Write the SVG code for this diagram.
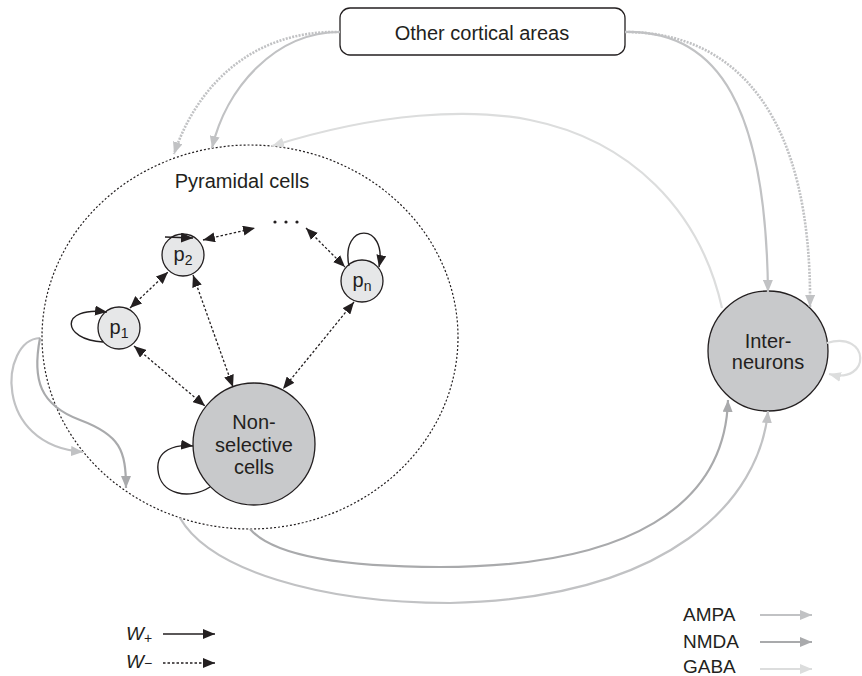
<svg xmlns="http://www.w3.org/2000/svg" width="862" height="676" viewBox="0 0 862 676">
  <style>
    text { font-family: "Liberation Sans", Arial, sans-serif; fill: #231f20; }
    .lbl { font-size: 20px; text-anchor: middle; }
    .sub { font-size: 14px; }
    .leg { font-size: 19px; }
    .node { stroke: #231f20; stroke-width: 1.3; }
    .pyr { fill: #e6e7e8; }
    .big { fill: #c8c9cb; }
    .wp { fill: none; stroke: #231f20; stroke-width: 1.4; }
    .wm { fill: none; stroke: #231f20; stroke-width: 1.3; stroke-dasharray: 2.5 2; }
    .ampa { fill: none; stroke: #c1c2c4; stroke-width: 2.2; }
    .nmda { fill: none; stroke: #a9aaac; stroke-width: 2.2; }
    .gaba { fill: none; stroke: #dcdddd; stroke-width: 2.2; }
    .dots { stroke-width: 2.6; stroke-dasharray: 2 1.3; }
  </style>
  <defs>
    <marker id="hk" viewBox="0 0 12 10" refX="12" refY="5" markerWidth="12" markerHeight="10" markerUnits="userSpaceOnUse" orient="auto-start-reverse">
      <path d="M0,0 L12,5 L0,10 z" fill="#231f20"/>
    </marker>
    <marker id="ha" viewBox="0 0 12 10" refX="12" refY="5" markerWidth="12" markerHeight="10" markerUnits="userSpaceOnUse" orient="auto">
      <path d="M0,0 L12,5 L0,10 z" fill="#c1c2c4"/>
    </marker>
    <marker id="hn" viewBox="0 0 12 10" refX="12" refY="5" markerWidth="12" markerHeight="10" markerUnits="userSpaceOnUse" orient="auto">
      <path d="M0,0 L12,5 L0,10 z" fill="#a9aaac"/>
    </marker>
    <marker id="hg" viewBox="0 0 12 10" refX="12" refY="5" markerWidth="12" markerHeight="10" markerUnits="userSpaceOnUse" orient="auto">
      <path d="M0,0 L12,5 L0,10 z" fill="#dcdddd"/>
    </marker>
  </defs>

  <!-- pyramidal population boundary -->
  <g id="pyramidal-pool">
    <ellipse cx="250" cy="337" rx="208" ry="192" fill="none" stroke="#231f20" stroke-width="1.2" stroke-dasharray="2 2"/>
    <text class="lbl" x="242" y="188">Pyramidal cells</text>
  </g>

  <g id="other-cortical-areas">
    <rect x="340" y="8" width="285" height="47" rx="10" fill="#fff" stroke="#231f20" stroke-width="1.3"/>
    <text class="lbl" x="482" y="40">Other cortical areas</text>
  </g>

  <g id="p1">
    <circle class="node pyr" cx="119" cy="328" r="21"/>
    <text class="lbl" x="119" y="334">p<tspan class="sub" dy="4">1</tspan></text>
  </g>
  <g id="p2">
    <circle class="node pyr" cx="183" cy="255" r="21"/>
    <text class="lbl" x="183" y="261">p<tspan class="sub" dy="4">2</tspan></text>
  </g>
  <g id="ellipsis">
    <circle cx="275" cy="222" r="1.6" fill="#231f20"/>
    <circle cx="286" cy="222" r="1.6" fill="#231f20"/>
    <circle cx="297" cy="222" r="1.6" fill="#231f20"/>
  </g>
  <g id="pn">
    <circle class="node pyr" cx="362" cy="281" r="21"/>
    <text class="lbl" x="362" y="287">p<tspan class="sub" dy="4">n</tspan></text>
  </g>
  <g id="non-selective">
    <circle class="node big" cx="254" cy="444" r="61"/>
    <text class="lbl" x="254" y="429">Non-</text>
    <text class="lbl" x="254" y="452">selective</text>
    <text class="lbl" x="254" y="474">cells</text>
  </g>
  <g id="interneurons">
    <circle class="node big" cx="768" cy="351" r="60"/>
    <text class="lbl" x="768" y="348">Inter-</text>
    <text class="lbl" x="768" y="369">neurons</text>
  </g>

  <g id="connectors">
    <!-- external input -->
    <path class="ampa dots" d="M340 32 C250 30 196 88 174 154" marker-end="url(#ha)"/>
    <path class="ampa" d="M340 32 C275 32 226 88 212 148" marker-end="url(#ha)"/>
    <path class="ampa" d="M625 32 C720 30 766 110 768 292" marker-end="url(#ha)"/>
    <path class="ampa dots" d="M625 32 C740 32 812 120 810 307" marker-end="url(#ha)"/>
    <!-- inhibition back to pyramidal cells -->
    <path class="gaba" d="M722 308 C700 210 630 140 530 120 C470 108 380 112 272 146" marker-end="url(#hg)"/>
    <!-- interneuron self-inhibition -->
    <path class="gaba" d="M827 343 C870 330 872 385 829 374" marker-end="url(#hg)"/>
    <!-- pyramidal recurrent excitation -->
    <path class="ampa" d="M40 338 C0 340 -8 445 83 452" marker-end="url(#ha)"/>
    <path class="nmda" d="M40 338 C32 380 40 405 80 420 C120 435 126 450 126 488" marker-end="url(#hn)"/>
    <!-- pyramidal to interneurons -->
    <path class="nmda" d="M250 529 C275 558 350 567 440 567 C630 567 725 505 728 400" marker-end="url(#hn)"/>
    <path class="ampa" d="M180 518 C210 570 320 603 450 603 C670 598 760 500 768 411" marker-end="url(#ha)"/>

    <!-- selective self-connections (w+) -->
    <path class="wp" d="M103 342 C62 340 58 306 107 312" marker-end="url(#hk)"/>
    <path class="wp" d="M165 237 L193 238" marker-end="url(#hk)"/>
    <path class="wp" d="M349 266 C340 222 388 222 379 267" marker-end="url(#hk)"/>
    <path class="wp" d="M210 487 C190 500 160 495 158 470 C156 450 175 444 193 446" marker-end="url(#hk)"/>

    <!-- cross connections (w-) -->
    <path class="wm" d="M130 308 L168 272" marker-start="url(#hk)" marker-end="url(#hk)"/>
    <path class="wm" d="M203 240 L255 228" marker-start="url(#hk)" marker-end="url(#hk)"/>
    <path class="wm" d="M306 228 L345 267" marker-start="url(#hk)" marker-end="url(#hk)"/>
    <path class="wm" d="M193 275 L233 387" marker-start="url(#hk)" marker-end="url(#hk)"/>
    <path class="wm" d="M134 346 L205 406" marker-start="url(#hk)" marker-end="url(#hk)"/>
    <path class="wm" d="M354 302 L283 389" marker-start="url(#hk)" marker-end="url(#hk)"/>
  </g>

  <g id="legend-weights">
    <text class="leg" x="126" y="640" font-style="italic">W<tspan class="sub" font-style="normal" dy="3">+</tspan></text>
    <path class="wp" d="M163 634 L215 634" marker-end="url(#hk)"/>
    <text class="leg" x="126" y="668" font-style="italic">W<tspan class="sub" font-style="normal" dy="0">−</tspan></text>
    <path class="wm" d="M163 663 L215 663" marker-end="url(#hk)"/>
  </g>
  <g id="legend-receptors">
    <text class="leg" x="683" y="621">AMPA</text>
    <path class="ampa" d="M760 615 L812 615" marker-end="url(#ha)"/>
    <text class="leg" x="683" y="648">NMDA</text>
    <path class="nmda" d="M760 642 L812 642" marker-end="url(#hn)"/>
    <text class="leg" x="683" y="673">GABA</text>
    <path class="gaba" d="M760 669 L812 669" marker-end="url(#hg)"/>
  </g>
</svg>
